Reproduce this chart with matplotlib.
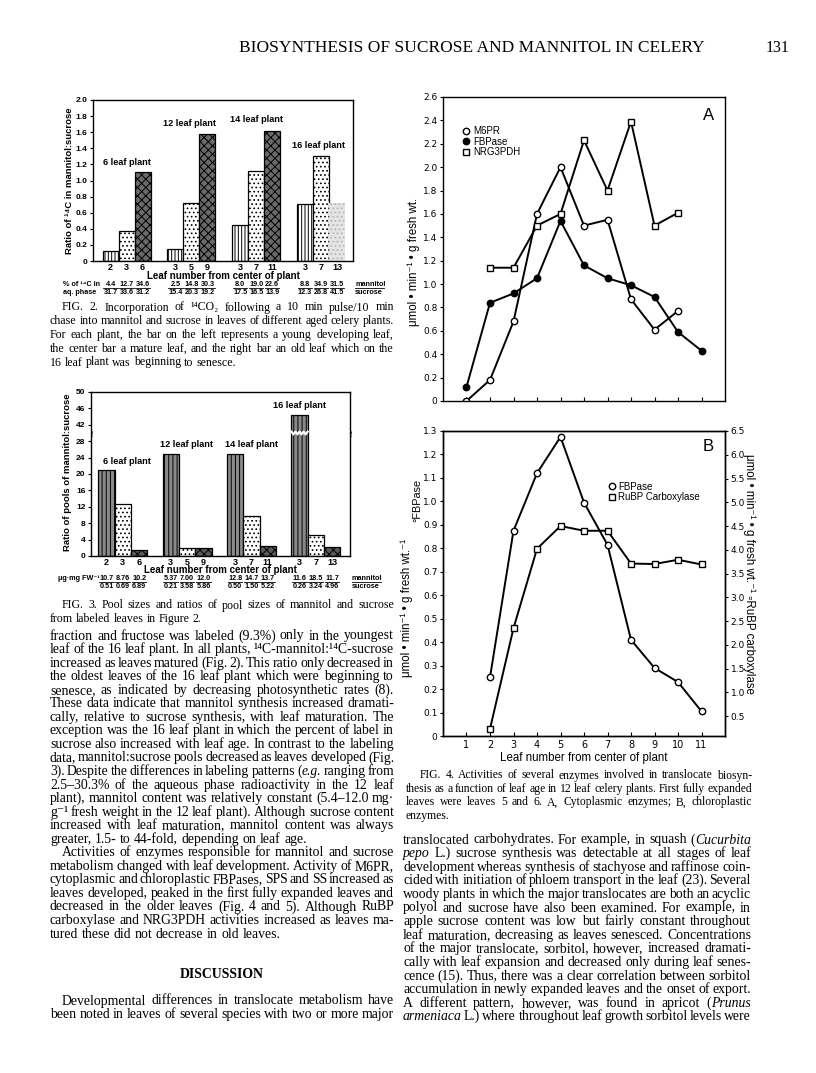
import matplotlib
matplotlib.use("Agg")
import matplotlib.pyplot as plt
import matplotlib.transforms as mtrans
from matplotlib.lines import Line2D
import numpy as np

W, H = 816, 1073
SERIF = ["Liberation Serif", "DejaVu Serif"]
SANS = ["Liberation Sans", "DejaVu Sans"]
plt.rcParams["hatch.linewidth"] = 0.7

# ---------------- data: Fig. 2 ----------------
plants = ["6 leaf plant", "12 leaf plant", "14 leaf plant", "16 leaf plant"]
leaf_no = [["2", "3", "6"], ["3", "5", "9"], ["3", "7", "11"], ["3", "7", "13"]]
ratio_14c = [[0.12, 0.37, 1.10], [0.15, 0.72, 1.58], [0.45, 1.12, 1.62], [0.71, 1.30, 0.72]]
aq_mannitol = [["4.4", "12.7", "34.6"], ["2.5", "14.8", "30.3"], ["8.0", "19.0", "22.6"], ["8.8", "34.9", "31.5"]]
aq_sucrose = [["31.7", "33.6", "31.2"], ["15.4", "20.3", "19.2"], ["17.5", "16.5", "13.9"], ["12.3", "26.8", "41.5"]]

# ---------------- data: Fig. 3 ----------------
pool_ratio = [[21.0, 12.7, 1.4], [25.0, 1.9, 2.0], [25.0, 9.7, 2.5], [44.5, 5.2, 2.2]]
pool_mannitol = [["10.7", "8.76", "10.2"], ["5.37", "7.00", "12.0"], ["12.8", "14.7", "13.7"], ["11.6", "18.5", "11.7"]]
pool_sucrose = [["0.51", "0.69", "6.89"], ["0.21", "3.58", "5.86"], ["0.50", "1.50", "5.22"], ["0.26", "3.24", "4.96"]]
pool_ticks = [0, 4, 8, 12, 16, 20, 24, 28, 42, 46, 50]

# ---------------- data: Fig. 4 ----------------
leaf_a = [1, 2, 3, 4, 5, 6, 7, 8, 9, 10, 11]
m6pr = [0.0, 0.18, 0.68, 1.60, 2.00, 1.50, 1.55, 0.87, 0.61, 0.77]
fbpase_cyt = [0.12, 0.84, 0.92, 1.05, 1.54, 1.16, 1.05, 0.99, 0.89, 0.59, 0.43]
nrg3pdh = [1.14, 1.14, 1.50, 1.60, 2.23, 1.80, 2.39, 1.50, 1.61]
fbpase_chl = [0.25, 0.875, 1.12, 1.275, 0.995, 0.815, 0.41, 0.29, 0.23, 0.105]
rubp = [0.23, 2.35, 4.02, 4.50, 4.40, 4.40, 3.71, 3.70, 3.79, 3.69]

# ---------------- text ----------------
header = "BIOSYNTHESIS OF SUCROSE AND MANNITOL IN CELERY"
page_no = "131"
cap2 = ["FIG. 2. Incorporation of ¹⁴CO₂ following a 10 min pulse/10 min",
        "chase into mannitol and sucrose in leaves of different aged celery plants.",
        "For each plant, the bar on the left represents a young developing leaf,",
        "the center bar a mature leaf, and the right bar an old leaf which on the",
        "16 leaf plant was beginning to senesce."]
cap3 = ["FIG. 3. Pool sizes and ratios of pool sizes of mannitol and sucrose",
        "from labeled leaves in Figure 2."]
cap4 = ["FIG. 4. Activities of several enzymes involved in translocate biosyn-",
        "thesis as a function of leaf age in 12 leaf celery plants. First fully expanded",
        "leaves were leaves 5 and 6. A, Cytoplasmic enzymes; B, chloroplastic",
        "enzymes."]
para1 = ["fraction and fructose was labeled (9.3%) only in the youngest",
         "leaf of the 16 leaf plant. In all plants, ¹⁴C-mannitol:¹⁴C-sucrose",
         "increased as leaves matured (Fig. 2). This ratio only decreased in",
         "the oldest leaves of the 16 leaf plant which were beginning to",
         "senesce, as indicated by decreasing photosynthetic rates (8).",
         "These data indicate that mannitol synthesis increased dramati-",
         "cally, relative to sucrose synthesis, with leaf maturation. The",
         "exception was the 16 leaf plant in which the percent of label in",
         "sucrose also increased with leaf age. In contrast to the labeling",
         "data, mannitol:sucrose pools decreased as leaves developed (Fig.",
         "3). Despite the differences in labeling patterns (*e.g.* ranging from",
         "2.5–30.3% of the aqueous phase radioactivity in the 12 leaf",
         "plant), mannitol content was relatively constant (5.4–12.0 mg·",
         "g⁻¹ fresh weight in the 12 leaf plant). Although sucrose content",
         "increased with leaf maturation, mannitol content was always",
         "greater, 1.5- to 44-fold, depending on leaf age."]
para2 = ["Activities of enzymes responsible for mannitol and sucrose",
         "metabolism changed with leaf development. Activity of M6PR,",
         "cytoplasmic and chloroplastic FBPases, SPS and SS increased as",
         "leaves developed, peaked in the first fully expanded leaves and",
         "decreased in the older leaves (Fig. 4 and 5). Although RuBP",
         "carboxylase and NRG3PDH activities increased as leaves ma-",
         "tured these did not decrease in old leaves."]
para3 = ["Developmental differences in translocate metabolism have",
         "been noted in leaves of several species with two or more major"]
para4 = ["translocated carbohydrates. For example, in squash (*Cucurbita*",
         "*pepo* L.) sucrose synthesis was detectable at all stages of leaf",
         "development whereas synthesis of stachyose and raffinose coin-",
         "cided with initiation of phloem transport in the leaf (23). Several",
         "woody plants in which the major translocates are both an acyclic",
         "polyol and sucrose have also been examined. For example, in",
         "apple sucrose content was low but fairly constant throughout",
         "leaf maturation, decreasing as leaves senesced. Concentrations",
         "of the major translocate, sorbitol, however, increased dramati-",
         "cally with leaf expansion and decreased only during leaf senes-",
         "cence (15). Thus, there was a clear correlation between sorbitol",
         "accumulation in newly expanded leaves and the onset of export.",
         "A different pattern, however, was found in apricot (*Prunus*",
         "*armeniaca* L.) where throughout leaf growth sorbitol levels were"]

fig = plt.figure(figsize=(W / 100, H / 100), dpi=100)
rend = fig.canvas.get_renderer()


def fy(y):
    return 1 - y / H


def ax_px(l, t, r, b):
    return fig.add_axes([l / W, 1 - b / H, (r - l) / W, (b - t) / H])


def block(lines, x0, x1, y0, dy, size, indent=0, last_full=False):
    # justified text, word by word
    space = size * 100 / 72 * 0.25
    for i, line in enumerate(lines):
        yb = fy(y0 + i * dy + 3.5)
        words = []
        for w in line.split(" "):
            segs = []
            for k, part in enumerate(w.split("*")):
                if part:
                    t = fig.text(0, yb, part, fontsize=size, family=SERIF,
                                 style="italic" if k % 2 else "normal", va="baseline")
                    segs.append([t, t.get_window_extent(rend).width])
            words.append(segs)
        start = x0 + (indent if i == 0 else 0)
        total = sum(s[1] for segs in words for s in segs)
        full = last_full or i < len(lines) - 1
        n = len(words)
        if full and n > 1:
            gap = (x1 - start - total) / (n - 1)
            if gap < 2.0:
                # squeeze a too-long line a little
                scale = (x1 - start - 2.0 * (n - 1)) / total
                for segs in words:
                    for s in segs:
                        s[0].set_fontsize(size * scale)
                        s[1] *= scale
                gap = 2.0
        else:
            gap = space
        x = start
        for segs in words:
            for t, wd in segs:
                t.set_x(x / W)
                x += wd
            x += gap


# header
fig.text(472 / W, fy(52), header, fontsize=12.5, family=SERIF, ha="center", va="baseline")
fig.text(790 / W, fy(52), page_no, fontsize=11.5, family=SERIF, ha="right", va="baseline")

bold = dict(family=SANS, fontweight="bold")

# ---------------- Fig. 2 ----------------
ax2 = ax_px(93, 100, 353, 261)
start2, step2 = 0.6, 4.05
cent2 = []
for g in range(4):
    for j in range(3):
        x = start2 + g * step2 + j + 0.5
        cent2.append(x)
        v = ratio_14c[g][j]
        if j == 0:
            ax2.bar(x, v, 1, color="white", hatch="|||||", edgecolor="k", lw=0.9)
        elif j == 1:
            ax2.bar(x, v, 1, color="white", hatch="....", edgecolor="k", lw=0.9)
        elif g == 3:
            ax2.bar(x, v, 1, color="#e4e4e4", hatch="....", edgecolor="#b0b0b0", lw=0)
        else:
            ax2.bar(x, v, 1, color="#6a6a6a", hatch="xxxx", edgecolor="k", lw=0.9)
ax2.set_xlim(0, 16.25)
ax2.set_ylim(0, 2.0)
yt = np.arange(0, 2.01, 0.2)
ax2.set_yticks(yt, ["0"] + [f"{v:.1f}" for v in yt[1:]])
ax2.set_xticks(cent2, [n for row in leaf_no for n in row])
ax2.tick_params(axis="y", direction="out", length=2.5, width=0.8, labelsize=6, pad=1.5)
ax2.tick_params(axis="x", length=0, labelsize=6.5, pad=1.5)
for lab in ax2.get_xticklabels() + ax2.get_yticklabels():
    lab.set_fontweight("bold")
    lab.set_family(SANS)
ax2.set_xlabel("Leaf number from center of plant", fontsize=7, labelpad=-1, **bold)
for s in ax2.spines.values():
    s.set_linewidth(1)
lab_pos2 = [(2.15, 1.22), (6.05, 1.71), (10.2, 1.76), (14.1, 1.43)]
for name, (x, y) in zip(plants, lab_pos2):
    ax2.text(x, y, name, ha="center", va="center", fontsize=6.6, **bold)
fig.text(70 / W, fy(181), "Ratio of ¹⁴C in mannitol:sucrose", rotation=90,
         ha="center", va="center", fontsize=6.8, **bold)

blend2 = mtrans.blended_transform_factory(ax2.transData, fig.transFigure)
r1, r2 = 284, 291
for g in range(4):
    for j in range(3):
        x = cent2[g * 3 + j]
        ax2.text(x, fy(r1 + 2.5), aq_mannitol[g][j], transform=blend2, ha="center",
                 va="baseline", fontsize=5.2, **bold)
        ax2.text(x, fy(r2 + 2.5), aq_sucrose[g][j], transform=blend2, ha="center",
                 va="baseline", fontsize=5.2, **bold)
        ax2.plot([x - 0.45, x + 0.45], [fy(r1 + 3.6)] * 2, transform=blend2, color="k",
                 lw=0.6, clip_on=False)
fig.text(63 / W, fy(r1 + 2.5), "% of ¹⁴C in", fontsize=5.2, va="baseline", **bold)
fig.text(63 / W, fy(r2 + 2.5), "aq. phase", fontsize=5.2, va="baseline", **bold)
fig.text(355 / W, fy(r1 + 2.5), "mannitol", fontsize=5.2, va="baseline", **bold)
fig.text(355 / W, fy(r2 + 2.5), "sucrose", fontsize=5.2, va="baseline", **bold)
fig.add_artist(Line2D([355 / W, 384 / W], [fy(r1 + 3.6)] * 2, color="k", lw=0.6))

block(cap2, 50, 394, 307, 13.75, 8.6, indent=12)

# ---------------- Fig. 3 ----------------
def pool_pos(v):
    return v / 4 if v <= 28 else 8 + (v - 42) / 4


ax3 = ax_px(91, 392, 350, 556)
start3, step3 = 0.45, 3.95
cent3 = []
for g in range(4):
    for j in range(3):
        x = start3 + g * step3 + j + 0.5
        cent3.append(x)
        v = pool_pos(pool_ratio[g][j])
        if j == 0:
            ax3.bar(x, v, 1, color="#8a8a8a", hatch="||||", edgecolor="k", lw=0.9)
        elif j == 1:
            ax3.bar(x, v, 1, color="white", hatch="....", edgecolor="k", lw=0.9)
        else:
            ax3.bar(x, v, 1, color="#5a5a5a", hatch="xxxx", edgecolor="k", lw=0.9)
ax3.set_xlim(0, 15.9)
ax3.set_ylim(0, 10)
ax3.set_yticks(range(11), [str(t) for t in pool_ticks])
ax3.set_xticks(cent3, [n for row in leaf_no for n in row])
ax3.tick_params(axis="y", direction="out", length=2.5, width=0.8, labelsize=6, pad=1.5)
ax3.tick_params(axis="x", length=0, labelsize=6.5, pad=1.5)
for lab in ax3.get_xticklabels() + ax3.get_yticklabels():
    lab.set_fontweight("bold")
    lab.set_family(SANS)
ax3.set_xlabel("Leaf number from center of plant", fontsize=7, labelpad=-1.5, **bold)
for s in ax3.spines.values():
    s.set_linewidth(1)
# axis break marks
bl = mtrans.blended_transform_factory(ax3.transAxes, ax3.transData)
for xa in (0, 1):
    ax3.text(xa, 7.45, "≀", transform=bl, ha="center", va="center", fontsize=7,
             family=["DejaVu Sans"], fontweight="bold", clip_on=False)
xb = cent3[9]
zz = np.linspace(xb - 0.5, xb + 0.5, 9)
ax3.plot(zz, 7.5 + 0.08 * (-1) ** np.arange(9), color="white", lw=1.6)
lab_pos3 = [(2.18, 5.78), (5.86, 6.8), (9.84, 6.8), (12.8, 9.16)]
for name, (x, y) in zip(plants, lab_pos3):
    ax3.text(x, y, name, ha="center", va="center", fontsize=6.6, **bold)
fig.text(67 / W, fy(472), "Ratio of pools of mannitol:sucrose", rotation=90,
         ha="center", va="center", fontsize=6.8, **bold)

blend3 = mtrans.blended_transform_factory(ax3.transData, fig.transFigure)
r1, r2 = 578, 586
for g in range(4):
    for j in range(3):
        x = cent3[g * 3 + j]
        ax3.text(x, fy(r1 + 2.5), pool_mannitol[g][j], transform=blend3, ha="center",
                 va="baseline", fontsize=5.2, **bold)
        ax3.text(x, fy(r2 + 2.5), pool_sucrose[g][j], transform=blend3, ha="center",
                 va="baseline", fontsize=5.2, **bold)
        ax3.plot([x - 0.45, x + 0.45], [fy(r1 + 3.6)] * 2, transform=blend3, color="k",
                 lw=0.6, clip_on=False)
fig.text(58 / W, fy(r1 + 2.5), "μg·mg FW⁻¹", fontsize=5.2, va="baseline", **bold)
fig.text(352 / W, fy(r1 + 2.5), "mannitol", fontsize=5.2, va="baseline", **bold)
fig.text(352 / W, fy(r2 + 2.5), "sucrose", fontsize=5.2, va="baseline", **bold)
fig.add_artist(Line2D([352 / W, 381 / W], [fy(r1 + 3.6)] * 2, color="k", lw=0.6))

block(cap3, 50, 394, 605, 13.75, 8.6, indent=12)

# ---------------- Fig. 4A ----------------
mk = dict(color="k", lw=1.4, markersize=4.6, markeredgewidth=1)
axa = ax_px(443, 97, 725, 401)
axa.plot(leaf_a[:len(m6pr)], m6pr, marker="o", mfc="white", **mk)
axa.plot(leaf_a, fbpase_cyt, marker="o", mfc="k", **mk)
axa.plot(leaf_a[1:1 + len(nrg3pdh)], nrg3pdh, marker="s", mfc="white", **mk)
axa.set_xlim(0, 12)
axa.set_ylim(0, 2.6)
yt = np.arange(0, 2.61, 0.2)
axa.set_yticks(yt, ["0"] + [f"{v:.1f}" for v in yt[1:]])
axa.set_xticks(leaf_a, [])
axa.tick_params(axis="x", direction="in", length=3, width=0.8)
axa.tick_params(axis="y", direction="out", length=2.5, width=0.8, labelsize=6.5, pad=1.5)
for s in axa.spines.values():
    s.set_linewidth(1)
hA = [Line2D([], [], ls="none", marker="o", mfc="white", mec="k", markersize=4.6),
      Line2D([], [], ls="none", marker="o", mfc="k", mec="k", markersize=4.6),
      Line2D([], [], ls="none", marker="s", mfc="white", mec="k", markersize=4.6)]
axa.legend(hA, ["M6PR", "FBPase", "NRG3PDH"], loc="upper left", bbox_to_anchor=(0.055, 0.92),
           frameon=False, handlelength=0.6, handletextpad=0.4, labelspacing=0.05,
           borderpad=0, prop={"family": SANS, "size": 7})
axa.text(0.94, 0.94, "A", transform=axa.transAxes, ha="center", va="center", fontsize=12,
         family=SANS)
fig.text(414 / W, fy(262), "μmol • min⁻¹ • g fresh wt.", rotation=90, ha="center",
         va="center", fontsize=8.3, family=SANS)

# ---------------- Fig. 4B ----------------
axb = ax_px(443, 431, 725, 736)
axb.plot(leaf_a[1:1 + len(fbpase_chl)], fbpase_chl, marker="o", mfc="white", **mk)
axr = axb.twinx()
axr.plot(leaf_a[1:1 + len(rubp)], rubp, marker="s", mfc="white", **mk)
axb.set_xlim(0, 12)
axb.set_ylim(0, 1.3)
yt = np.arange(0, 1.31, 0.1)
axb.set_yticks(yt, ["0"] + [f"{v:.1f}" for v in yt[1:]])
axr.set_ylim(0.08, 6.5)
yr = np.arange(0.5, 6.51, 0.5)
axr.set_yticks(yr, [f"{v:.1f}" for v in yr])
axb.set_xticks(leaf_a, [str(v) for v in leaf_a])
axb.tick_params(axis="x", direction="in", length=3, width=0.8, labelsize=7, pad=3)
axb.tick_params(axis="y", direction="out", length=2.5, width=0.8, labelsize=6.5, pad=1.5)
axr.tick_params(axis="y", direction="out", length=2.5, width=0.8, labelsize=6.5, pad=1.5)
for s in list(axb.spines.values()) + list(axr.spines.values()):
    s.set_linewidth(1)
axb.set_xlabel("Leaf number from center of plant", fontsize=8.3, family=SANS, labelpad=1)
hB = [Line2D([], [], ls="none", marker="o", mfc="white", mec="k", markersize=4.6),
      Line2D([], [], ls="none", marker="s", mfc="white", mec="k", markersize=4.6)]
axb.legend(hB, ["FBPase", "RuBP Carboxylase"], loc="upper left", bbox_to_anchor=(0.57, 0.85),
           frameon=False, handlelength=0.6, handletextpad=0.4, labelspacing=0.05,
           borderpad=0, prop={"family": SANS, "size": 7})
axb.text(0.94, 0.95, "B", transform=axb.transAxes, ha="center", va="center", fontsize=12,
         family=SANS)
fig.text(407 / W, fy(608), "μmol • min⁻¹ • g fresh wt.⁻¹", rotation=90, ha="center",
         va="center", fontsize=8.3, family=SANS)
fig.text(417 / W, fy(500), "°FBPase", rotation=90, ha="center", va="center",
         fontsize=7.8, family=SANS)
fig.text(749 / W, fy(574), "μmol • min⁻¹ • g fresh wt.⁻¹ ▫RuBP carboxylase", rotation=-90,
         ha="center", va="center", fontsize=8.3, family=SANS)

block(cap4, 406, 752, 775, 13.4, 8.4, indent=14)

# ---------------- body text ----------------
BODY = 9.9
block(para1, 50, 394, 636, 13.55, BODY)
block(para2, 50, 394, 636 + 16 * 13.55, 13.55, BODY, indent=12)
fig.text(222 / W, fy(978), "DISCUSSION", fontsize=BODY, family=SERIF, fontweight="bold",
         ha="center", va="baseline")
block(para3, 50, 394, 1001, 13.55, BODY, indent=12, last_full=True)
block(para4, 403, 751, 840, 13.6, BODY, last_full=True)

fig.savefig("out.png", dpi=100, facecolor="white")
